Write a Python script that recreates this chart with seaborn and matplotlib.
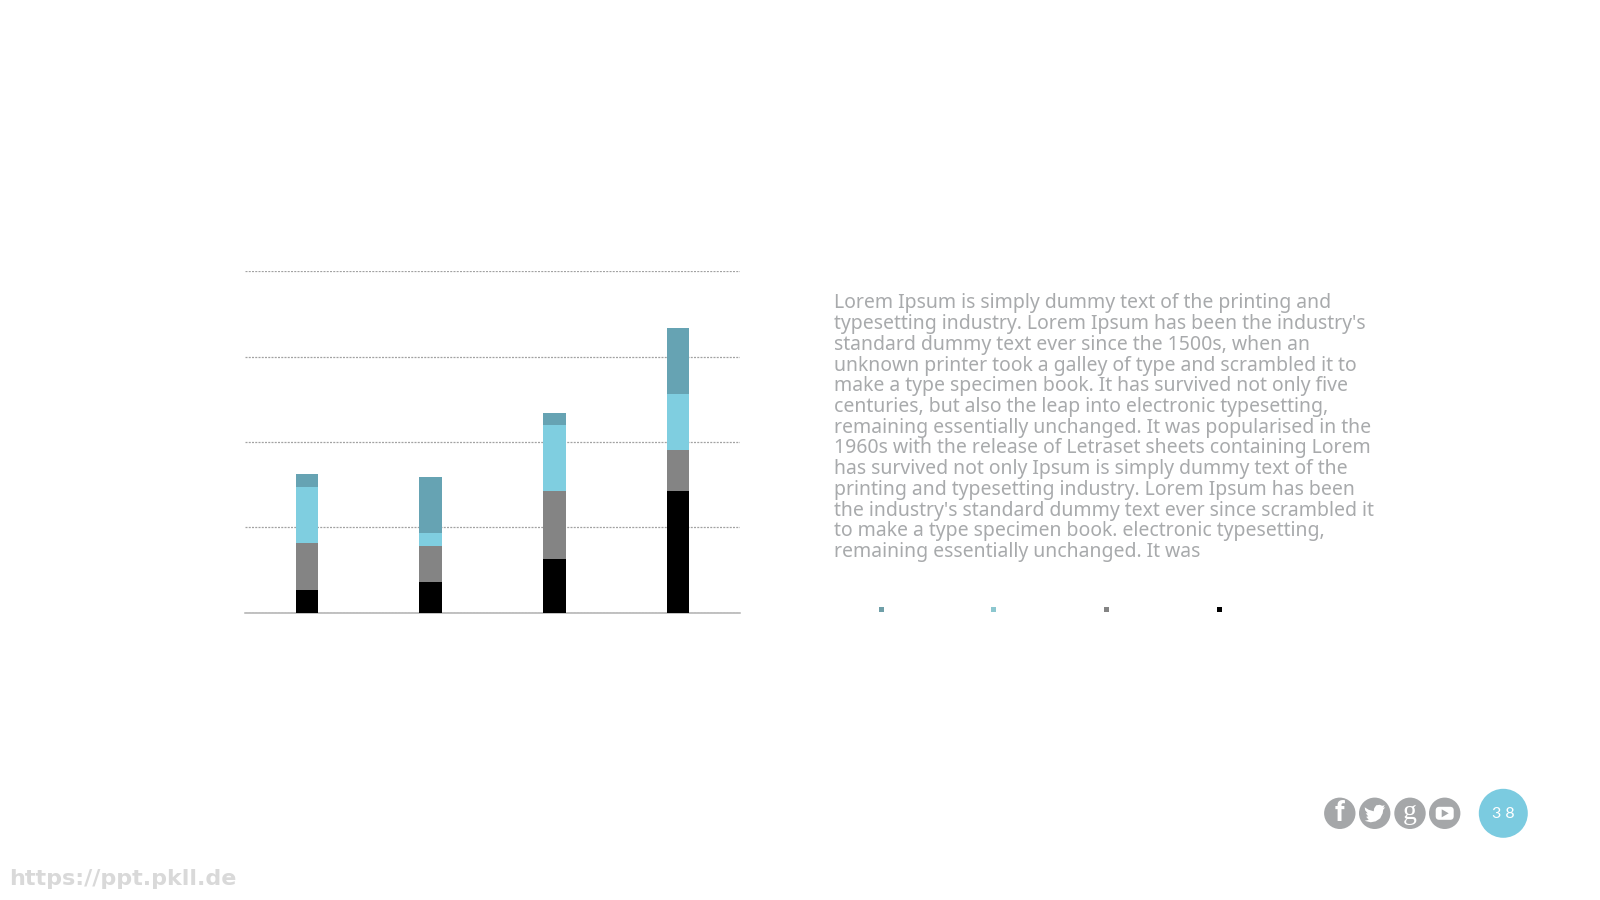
import matplotlib
matplotlib.use("Agg")
import matplotlib.pyplot as plt
from matplotlib.patches import Circle, FancyBboxPatch, Polygon, Rectangle
import pandas as pd
import seaborn as sns

# Stacked series, bottom to top
categories = ["Category 1", "Category 2", "Category 3", "Category 4"]
series_black = [6.8, 9.2, 15.9, 35.8]
series_gray = [13.7, 10.5, 19.9, 12.0]
series_cyan = [16.4, 3.8, 19.3, 16.4]
series_teal = [3.8, 16.4, 3.5, 19.3]
y_ticks = [0, 25.2, 50, 75, 100]

body_lines = [
    "Lorem Ipsum is simply dummy text of the printing and",
    "typesetting industry. Lorem Ipsum has been the industry's",
    "standard dummy text ever since the 1500s, when an",
    "unknown printer took a galley of type and scrambled it to",
    "make a type specimen book. It has survived not only five",
    "centuries, but also the leap into electronic typesetting,",
    "remaining essentially unchanged. It was popularised in the",
    "1960s with the release of Letraset sheets containing Lorem",
    "has survived not only Ipsum is simply dummy text of the",
    "printing and typesetting industry. Lorem Ipsum has been",
    "the industry's standard dummy text ever since scrambled it",
    "to make a type specimen book. electronic typesetting,",
    "remaining essentially unchanged. It was",
]
page_number = "3 8"
site_url = "https://ppt.pkll.de"

BLACK, GRAY, CYAN, TEAL = "#000000", "#848484", "#7fcee0", "#66a3b3"
ICON = "#a5a7a9"

sns.set_theme(style="white")
plt.rcParams["font.family"] = ["Noto Sans", "DejaVu Sans"]

W, H = 1600, 900
fig = plt.figure(figsize=(W / 100, H / 100), dpi=100, facecolor="white")

# Chart axes placed on the slide in pixel terms
left, right, top, base = 245, 740, 271.3, 613.3
ax = fig.add_axes([left / W, 1 - base / H, (right - left) / W, (base - top) / H])

df = pd.DataFrame({"category": categories, "black": series_black, "gray": series_gray,
                   "cyan": series_cyan, "teal": series_teal})
bottom = pd.Series([0.0] * len(df))
for col, colour in [("black", BLACK), ("gray", GRAY), ("cyan", CYAN), ("teal", TEAL)]:
    sns.barplot(data=df, x="category", y=col, bottom=bottom, color=colour, width=0.182,
                saturation=1, linewidth=0, ax=ax, zorder=3)
    bottom = bottom + df[col]

ax.set_xlim(-0.5, 3.5)
ax.set_ylim(0, 100)
ax.set_yticks(y_ticks)
ax.set_xlabel("")
ax.set_ylabel("")
ax.tick_params(left=False, bottom=False, labelleft=False, labelbottom=False)
ax.yaxis.grid(True, color="#a2a2a2", linewidth=0.9, linestyle=(0, (1.6, 1.0)))
ax.set_axisbelow(True)
for name in ("top", "left", "right"):
    ax.spines[name].set_visible(False)
ax.spines["bottom"].set_color("#b0b0b0")
ax.spines["bottom"].set_linewidth(1.1)
ax.patch.set_alpha(0)

# Slide furniture drawn in a full-figure pixel layer
page = fig.add_axes([0, 0, 1, 1], zorder=5)
page.set_xlim(0, W)
page.set_ylim(H, 0)
page.axis("off")

for i, line in enumerate(body_lines):
    page.text(834, 308.4 + i * 20.72, line, fontsize=13.98, color="#a8aaac",
              family=["Noto Sans", "DejaVu Sans"], va="baseline", ha="left")

# Legend keys
for x, colour in zip([881, 993.3, 1106.3, 1219.3], ["#6f9fa8", "#8cc7cf", GRAY, BLACK]):
    page.add_patch(Rectangle((x - 2.5, 606.8), 5, 5, facecolor=colour, edgecolor="none"))

# Social icons
cy = 813.3
icon_x = [1339.8, 1374.7, 1410, 1444.7]
for x in icon_x:
    page.add_patch(Circle((x, cy), 15.7, facecolor=ICON, edgecolor="none"))
page.text(icon_x[0], cy + 0.5, "f", color="white", fontsize=20, fontweight="bold",
          family="Roboto", ha="center", va="center")
bx, by = icon_x[1], cy
bird = [(-10, -6), (-6, -3.5), (-1, -2), (-0.5, -5), (1.5, -8), (5, -8.5), (7.5, -7.5), (10, -8),
        (8.5, -5.5), (10.5, -6), (8.5, -3.5), (8, 0), (5.5, 5), (1, 8), (-4, 9), (-10, 7.5),
        (-6, 6.5), (-8.5, 3.5), (-6.5, 3), (-9, 0), (-7, 0), (-9.5, -3)]
page.add_patch(Polygon([(bx + a, by + b) for a, b in bird], closed=True, facecolor="white",
                       edgecolor="none"))
page.text(icon_x[2], cy - 1, "g", color="white", fontsize=20, family="Liberation Serif",
          ha="center", va="center")
yx = icon_x[3]
page.add_patch(FancyBboxPatch((yx - 9, cy - 6.5), 18, 13, boxstyle="round,pad=0,rounding_size=3.5",
                              facecolor="white", edgecolor="none"))
page.add_patch(Polygon([(yx - 3, cy - 4), (yx - 3, cy + 4), (yx + 4, cy)], closed=True,
                       facecolor=ICON, edgecolor="none"))

# Page number badge
page.add_patch(Circle((1503.3, cy), 24.5, facecolor="#7bcbe0", edgecolor="none"))
page.text(1503.3, cy + 0.8, page_number, color="white", fontsize=11.5, family="Lato",
          ha="center", va="center")

page.text(9, 885, site_url, color="#d9d9d9", fontsize=16, fontweight="bold",
          family="DejaVu Sans", ha="left", va="baseline")

fig.savefig("out.png", dpi=100, facecolor="white")
